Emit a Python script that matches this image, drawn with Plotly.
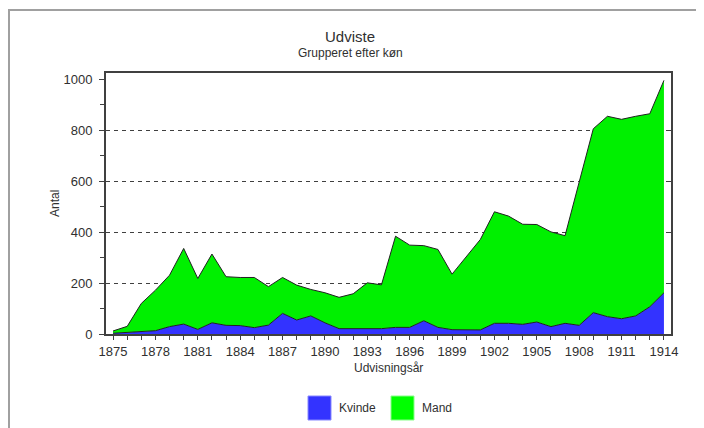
import plotly.graph_objects as go

years = list(range(1875, 1915))
total = [12, 30, 120, 172, 231, 336, 218, 314, 225, 222, 222, 186, 222, 192, 175, 162,
         144, 158, 201, 193, 384, 349, 347, 332, 235, 303, 371, 480, 463, 431,
         430, 401, 386, 597, 806, 855, 843, 855, 865, 996]
kvinde = [3, 6, 9, 13, 29, 39, 18, 44, 34, 33, 25, 35, 81, 55, 71, 44,
          21, 21, 21, 21, 26, 26, 52, 26, 17, 16, 16, 42, 42, 38,
          47, 29, 42, 34, 84, 68, 60, 71, 107, 162]
mand = [t - k for t, k in zip(total, kvinde)]

x_ticks = list(range(1875, 1915, 3)) + [1914]
y_ticks = [0, 200, 400, 600, 800, 1000]
grid_vals = [200, 400, 600, 800]

BLUE = "#3333ff"
GREEN = "#00f000"
FONT = "Liberation Sans, Arial, sans-serif"
TXT = "#303030"

# page offset of the figure div (default body margin)
OFF = 8
# plot area in window pixels
L, R, T, B = 106, 671, 73, 334
W, H = 704, 428
pw, ph = R - L, B - T

def px(x):
    return (x - L) / pw

def py(y):
    return (B - y) / ph

fig = go.Figure()
fig.add_trace(go.Scatter(x=years, y=kvinde, name="Kvinde", stackgroup="one",
                         mode="lines", line=dict(color="#202020", width=1),
                         fillcolor=BLUE, showlegend=False, hoverinfo="x+y"))
fig.add_trace(go.Scatter(x=years, y=mand, name="Mand", stackgroup="one",
                         mode="lines", line=dict(color="#202020", width=1),
                         fillcolor=GREEN, showlegend=False, hoverinfo="x+y"))
fig.add_trace(go.Scatter(x=years, y=total, yaxis="y2", mode="none",
                         showlegend=False, hoverinfo="skip"))

shapes = []
# outer frame
shapes.append(dict(type="rect", xref="paper", yref="paper",
                   x0=px(9), x1=px(720), y0=py(440), y1=py(10),
                   line=dict(color="#a0a0a0", width=2), layer="below"))
# legend squares
shapes.append(dict(type="rect", xref="paper", yref="paper",
                   x0=px(308), x1=px(331), y0=py(420), y1=py(396),
                   fillcolor=BLUE, line=dict(color="#8888ff", width=1)))
shapes.append(dict(type="rect", xref="paper", yref="paper",
                   x0=px(391), x1=px(414), y0=py(420), y1=py(396),
                   fillcolor="#00ff00", line=dict(color="#88ff88", width=1)))

def ann(text, x, y, size, xanchor="center", angle=0):
    return dict(text=text, xref="paper", yref="paper", x=px(x), y=py(y),
                xanchor=xanchor, yanchor="middle", showarrow=False, textangle=angle,
                font=dict(size=size, color=TXT, family=FONT))

annotations = [
    ann("Udviste", 350, 37, 15),
    ann("Grupperet efter køn", 350, 53, 12),
    ann("Udvisningsår", 388, 368, 12),
    ann("Antal", 55, 204, 12, angle=-90),
    ann("Kvinde", 337, 408, 12, xanchor="left"),
    ann("Mand", 420, 408, 12, xanchor="left"),
]

fig.update_layout(
    width=W - OFF, height=H - OFF,
    margin=dict(l=L - OFF, r=W - R, t=T - OFF, b=H - B, pad=0),
    paper_bgcolor="white", plot_bgcolor="white",
    font=dict(family=FONT, size=13, color=TXT),
    shapes=shapes, annotations=annotations,
    xaxis=dict(range=[1874.5, 1914.5], tickvals=x_ticks, ticktext=[str(v) for v in x_ticks],
               automargin=False,
               ticks="outside", ticklen=4, tickcolor="#404040",
               minor=dict(dtick=1, tick0=1875, ticks="outside", ticklen=4, tickcolor="#404040"),
               showline=True, linecolor="#404040", linewidth=2, mirror=True,
               showgrid=False, zeroline=False,
               tickfont=dict(size=13)),
    yaxis=dict(range=[0, 1025], tickvals=y_ticks, ticks="outside", ticklen=5,
               automargin=False, ticklabelstandoff=4,
               tickcolor="#404040",
               minor=dict(dtick=100, ticks="outside", ticklen=4, tickcolor="#404040"),
               showline=True, linecolor="#404040", linewidth=2, mirror=True,
               showgrid=False, zeroline=False,
               tickfont=dict(size=13)),
    yaxis2=dict(overlaying="y", side="right", matches="y", tickvals=grid_vals,
                automargin=False,
                showticklabels=False, ticks="inside", ticklen=5, tickcolor="#404040",
                showgrid=True, gridcolor="#404040", griddash="4px,4px", gridwidth=1,
                zeroline=False, showline=False),
)

fig.write_html("out.html")
